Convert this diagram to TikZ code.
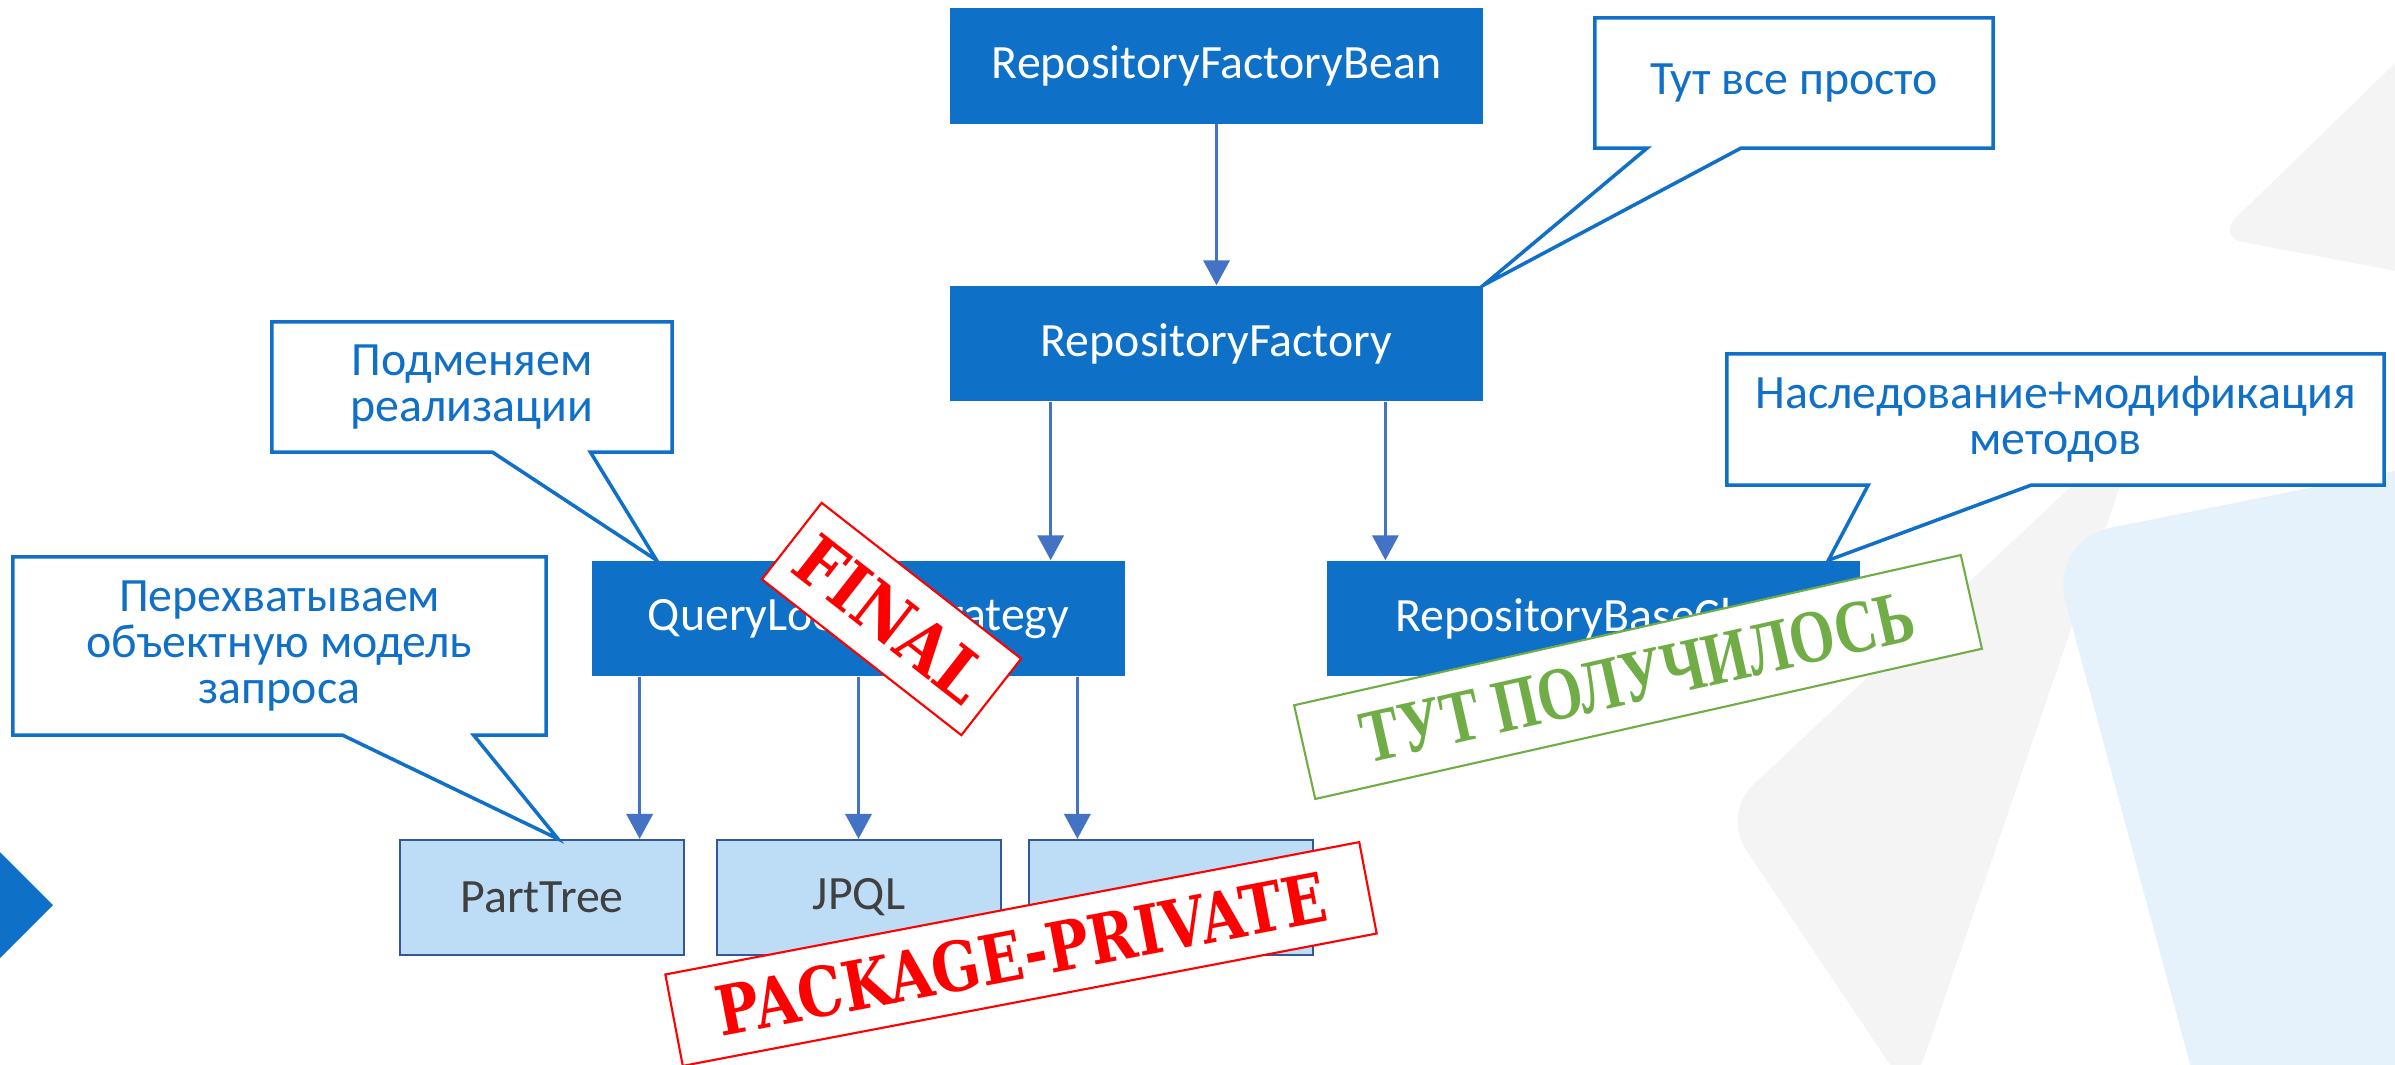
\documentclass[tikz,border=0pt]{standalone}
\usepackage{fontspec}
\setmainfont{Carlito}
\newfontfamily\stampfont{DejaVu Serif}
\newfontfamily\okfont{Liberation Serif}
\usetikzlibrary{calc,arrows.meta,shapes.callouts}

\definecolor{boxblue}{RGB}{14,112,198}
\definecolor{noteblue}{RGB}{16,112,200}
\definecolor{flowblue}{RGB}{68,114,196}
\definecolor{subfill}{RGB}{189,221,247}
\definecolor{subline}{RGB}{52,88,150}
\definecolor{subtext}{RGB}{64,64,64}
\definecolor{stampred}{RGB}{255,0,0}
\definecolor{stampgreen}{RGB}{112,173,71}
\definecolor{bggray}{RGB}{244,244,244}
\definecolor{bgblue}{RGB}{230,242,251}

\newcommand{\boxfont}{\fontsize{13.6}{13.2}\selectfont}
\newcommand{\tall}[2]{\scalebox{1}[#1]{#2}}

\tikzset{
  box/.style={fill=boxblue, text=white, minimum width=5.32cm, minimum height=1.15cm, inner sep=0pt, font=\boxfont},
  subbox/.style={fill=subfill, draw=subline, line width=0.6pt, text=subtext, minimum width=2.83cm, minimum height=1.15cm, inner sep=0pt, font=\boxfont},
  flow/.style={draw=flowblue, line width=1pt, -{Triangle[width=7.4pt,length=7.1pt]}},
  note/.style={rectangle callout, draw=noteblue, line width=1pt, fill=white, text=noteblue, align=center, inner sep=0pt, font=\boxfont},
  stamp/.style={draw=stampred, line width=0.6pt, fill=white, text=stampred, inner sep=0pt, font=\stampfont\bfseries\fontsize{16.2}{18}\selectfont}
}

\begin{document}
\begin{tikzpicture}[x=0.01cm,y=-0.01cm]
  \useasboundingbox (0,0) rectangle (2395,1064);
  \clip (0,0) rectangle (2395,1064);

  % background
  \fill[bggray, rounded corners=12pt] (2143,419) -- (1722,814) -- (1911,1096) -- cycle;
  \fill[bggray, rounded corners=8pt] (2460,0) -- (2216,237) -- (2460,283) -- cycle;
  \fill[bgblue, rounded corners=18pt] (2520,446) -- (2049,540) -- (2205,1120) -- (2520,1120) -- cycle;
  \fill[boxblue] (0,852) -- (53,905) -- (0,958) -- cycle;

  % classes
  \node[box] (rfb) at (1216.5,66) {RepositoryFactoryBean};
  \node[box] (rf) at (1216.5,343.5) {RepositoryFactory};
  \node[box] (qls) at (858.5,618.5) {QueryLookupStrategy};
  \node[box] (rbc) at (1593.5,618.5) {RepositoryBaseClass};
  \node[subbox] (pt) at (542,897.5) {PartTree};
  \node[subbox] (jpql) at (859,897.5) {JPQL};
  \node[subbox] (nat) at (1171,897.5) {};

  \draw[flow] (rfb) -- (rf);
  \draw[flow] ($(rf.south west)+(101,0)$) coordinate (a1) -- (a1 |- qls.north);
  \draw[flow] ($(rf.south east)+(-98,0)$) coordinate (a2) -- (a2 |- rbc.north);
  \draw[flow] ($(qls.south west)+(48,0)$) coordinate (a3) -- (a3 |- pt.north);
  \draw[flow] (qls.south) coordinate (a4) -- (a4 |- jpql.north);
  \draw[flow] ($(qls.south east)+(-48,0)$) coordinate (a5) -- (a5 |- nat.north);

  % notes
  \node[note, minimum width=3.98cm, minimum height=1.30cm, callout pointer width=26.7pt,
        callout absolute pointer={(rf.north east)}] (simple) at (1794,83) {Тут все просто};
  \node[note, minimum width=4.00cm, minimum height=1.30cm, callout pointer width=27.9pt,
        callout absolute pointer={($(qls.north west)+(65,0)$)}] (impl) at (472,387) {Подменяем\\реализации};
  \node[note, minimum width=5.33cm, minimum height=1.78cm, callout pointer width=37.3pt,
        callout absolute pointer={($(pt.north)+(16,0)$)}] (model) at (279.5,646) {Перехватываем\\объектную модель\\запроса};
  \node[note, minimum width=6.57cm, minimum height=1.31cm, callout pointer width=46.4pt,
        callout absolute pointer={($(rbc.north east)+(-32,0)$)}] (inherit) at (2055.5,419.5) {Наследование+модификация\\методов};

  % stamps
  \node[stamp, minimum width=2.53cm, minimum height=0.97cm, rotate=-38,
        font=\stampfont\bfseries\fontsize{17.6}{18}\selectfont] (final) at (891.5,619) {\tall{1.12}{FINAL}};
  \node[stamp, minimum width=7.06cm, minimum height=0.93cm, rotate=10.8] (pkg) at (1021,954) {\tall{1.2}{PACKAGE-PRIVATE}};
  \node[stamp, draw=stampgreen, text=stampgreen, minimum width=6.83cm, minimum height=0.96cm, rotate=12.7,
        font=\okfont\bfseries\fontsize{16.5}{18}\selectfont] (done) at (1638,677) {\tall{1.3}{ТУТ ПОЛУЧИЛОСЬ}};
\end{tikzpicture}
\end{document}
